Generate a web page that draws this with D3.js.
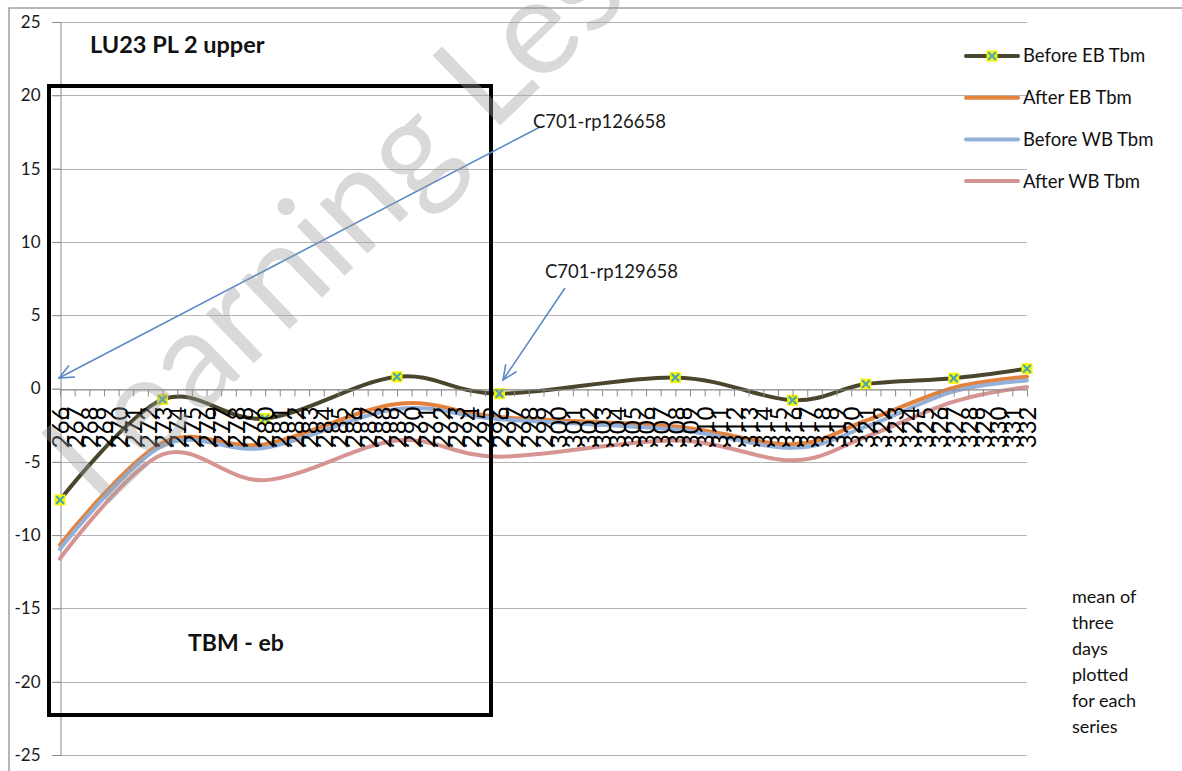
<!DOCTYPE html>
<html><head><meta charset="utf-8">
<script src="https://cdn.jsdelivr.net/npm/d3@7"></script>
<style>body{margin:0;background:#fff;} svg{display:block;font-family:Lato,'Open Sans',sans-serif;}</style>
</head><body>
<svg id="c" width="1182" height="771"></svg>
<script>
// ---- data ----
const categories = [266,267,268,269,270,271,272,273,274,275,276,277,278,279,280,281,282,283,284,285,286,287,288,289,290,291,292,293,294,295,296,297,298,299,300,301,302,303,304,305,306,307,308,309,310,311,312,313,314,315,316,317,318,319,320,321,322,323,324,325,326,327,328,329,330,331,332];
const pointCategories = [266,273,280,289,296,308,316,321,327,332];
const beforeEB = [-7.6, -0.75, -2.05, 0.8, -0.35, 0.75, -0.8, 0.3, 0.7, 1.35];
const afterEB  = [-10.65, -3.7, -3.8, -1.05, -1.95, -2.6, -3.8, -2.2, 0.05, 0.8];
const beforeWB = [-10.95, -3.9, -4.05, -1.4, -2.1, -2.8, -4.05, -2.6, -0.2, 0.55];
const afterWB  = [-11.6, -4.5, -6.25, -3.55, -4.65, -3.55, -4.9, -3.3, -0.9, 0.1];
const seriesNames = ["Before EB Tbm","After EB Tbm","Before WB Tbm","After WB Tbm"];
const yTicks = [-25,-20,-15,-10,-5,0,5,10,15,20,25];
const titleText = "LU23 PL 2 upper";
const boxLabel = "TBM - eb";
const noteLines = ["mean of","three","days","plotted","for each","series"];
const annotations = ["C701-rp126658","C701-rp129658"];

// ---- layout / style ----
const svg = d3.select("#c");
const W = 1182, H = 771;
const x = d3.scalePoint().domain(categories).range([60,1027]);
const y = d3.scaleLinear().domain([-25,25]).range([755,22]);
const colors = ["#4a462d","#e3823d","#94b0d9","#d69592"];
const seriesVals = [beforeEB, afterEB, beforeWB, afterWB];

svg.append("rect").attr("width",W).attr("height",H).attr("fill","#fff");
// outer chart border
svg.append("rect").attr("x",9).attr("y",8).attr("width",W+20).attr("height",H+20)
  .attr("fill","none").attr("stroke","#a0a0a0").attr("stroke-width",1.5);

// gridlines
svg.append("g").selectAll("line").data(yTicks).join("line")
  .attr("x1",52).attr("x2",1027)
  .attr("y1",d=>Math.round(y(d))+0.5).attr("y2",d=>Math.round(y(d))+0.5)
  .attr("stroke","#b4b4b4").attr("stroke-width",1);

// y axis
const yAxis = svg.append("g").attr("transform","translate(60.5,0)")
  .call(d3.axisLeft(y).tickValues(yTicks).tickSize(8).tickPadding(12).tickFormat(d=>String(d)));
yAxis.select(".domain").attr("stroke","#8c8c8c");
yAxis.selectAll(".tick line").attr("stroke","#8c8c8c");
yAxis.selectAll("text").attr("font-size",17).attr("fill","#1a1a1a").attr("font-family","Lato, sans-serif");

// series lines
const line = d3.line().x(d=>d[0]).y(d=>d[1]).curve(d3.curveCatmullRom.alpha(0));
seriesVals.forEach((vals,si)=>{
  const pts = pointCategories.map((c,i)=>[x(c), y(vals[i])]);
  svg.append("path").attr("d",line(pts)).attr("fill","none")
    .attr("stroke",colors[si]).attr("stroke-width",4).attr("stroke-linecap","round").attr("stroke-linejoin","round");
});

function marker(g, cx, cy){
  const s = 5.5;
  g.append("rect").attr("x",cx-s).attr("y",cy-s).attr("width",2*s).attr("height",2*s).attr("fill","#f5f500");
  g.append("path").attr("d",`M${cx-3.8},${cy-3.8}L${cx+3.8},${cy+3.8}M${cx-3.8},${cy+3.8}L${cx+3.8},${cy-3.8}`)
    .attr("stroke","#45a4b8").attr("stroke-width",2);
}
const mg = svg.append("g");
pointCategories.forEach((c,i)=>marker(mg, x(c), y(beforeEB[i])));

// x axis at y=0
const xAxis = svg.append("g").attr("transform",`translate(0,${Math.round(y(0))+0.5})`)
  .call(d3.axisBottom(x).tickSize(7).tickSizeOuter(0));
xAxis.select(".domain").attr("stroke","#8c8c8c");
xAxis.selectAll(".tick line").attr("stroke","#8c8c8c");
xAxis.selectAll("text")
  .attr("transform","rotate(-90)").attr("text-anchor","end")
  .attr("x",-17).attr("y",0).attr("dy","0.36em")
  .attr("font-size",24).attr("fill","#000").attr("font-family","Lato, sans-serif");

// black box
svg.append("rect").attr("x",49).attr("y",86).attr("width",442).attr("height",629)
  .attr("fill","none").attr("stroke","#000").attr("stroke-width",4);

// title & box label
svg.append("text").attr("x",90).attr("y",53).text(titleText)
  .attr("font-size",23.5).attr("font-weight","bold").attr("fill","#111");
svg.append("text").attr("x",188).attr("y",651).text(boxLabel)
  .attr("font-size",23).attr("font-weight","bold").attr("fill","#111");

// annotations (arrows)
const arrowLayout = [
  {label: annotations[0], tx:533, ty:128, x1:540, y1:127, x2:59, y2:378},
  {label: annotations[1], tx:545, ty:278, x1:565, y1:288, x2:503, y2:380}
];
arrowLayout.forEach(a=>{
  svg.append("line").attr("x1",a.x1).attr("y1",a.y1).attr("x2",a.x2).attr("y2",a.y2)
    .attr("stroke","#5b8ac6").attr("stroke-width",1.6);
  const ang = Math.atan2(a.y1-a.y2, a.x1-a.x2), L = 16, sp = 0.42;
  const p1 = [a.x2+L*Math.cos(ang+sp), a.y2+L*Math.sin(ang+sp)];
  const p2 = [a.x2+L*Math.cos(ang-sp), a.y2+L*Math.sin(ang-sp)];
  svg.append("path").attr("d",`M${p1}L${a.x2},${a.y2}L${p2}`).attr("fill","none")
    .attr("stroke","#5b8ac6").attr("stroke-width",1.6);
  svg.append("text").attr("x",a.tx).attr("y",a.ty).text(a.label)
    .attr("font-size",18.5).attr("fill","#1a1a1a");
});

// legend
const lg = svg.append("g");
seriesNames.forEach((n,i)=>{
  const ly = 56 + i*41.7;
  lg.append("line").attr("x1",966).attr("x2",1018).attr("y1",ly).attr("y2",ly)
    .attr("stroke",colors[i]).attr("stroke-width",4).attr("stroke-linecap","round");
  if(i===0) marker(lg, 992, ly);
  lg.append("text").attr("x",1023).attr("y",ly).attr("dy","0.35em").text(n)
    .attr("font-size",18.5).attr("fill","#111");
});

// note
svg.append("g").selectAll("text").data(noteLines).join("text")
  .attr("x",1072).attr("y",(d,i)=>603+i*26).text(d=>d)
  .attr("font-size",18).attr("fill","#111");

// watermark
svg.append("text").attr("transform","translate(100,512) rotate(-44)")
  .text("Learning Lessons").attr("font-size",136).attr("font-family","Lato, sans-serif")
  .attr("fill","#9a9a9a").attr("fill-opacity",0.38);
</script>
</body></html>
